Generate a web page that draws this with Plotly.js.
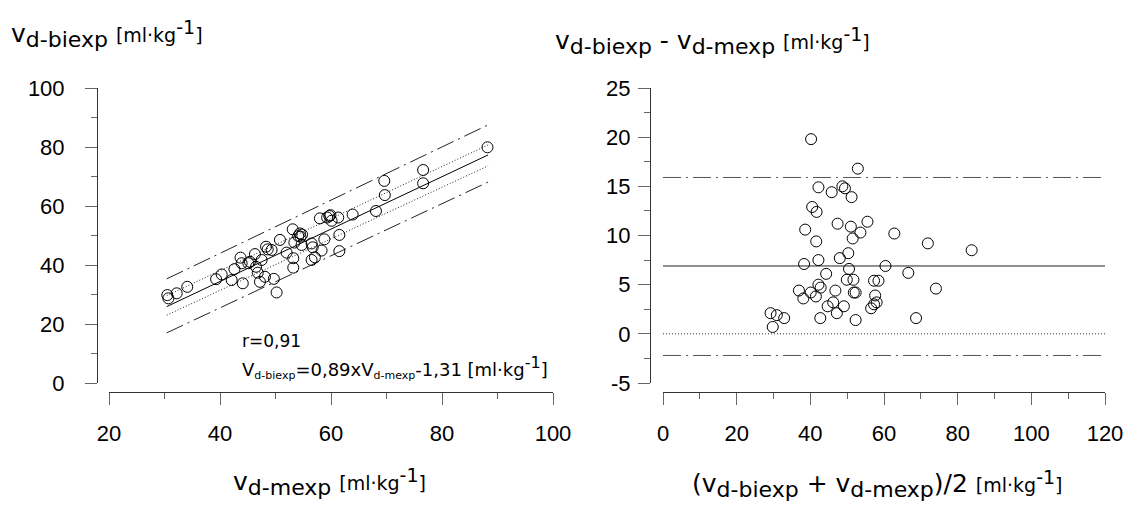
<!DOCTYPE html>
<html>
<head>
<meta charset="utf-8">
<script src="https://cdn.plot.ly/plotly-3.0.1.min.js"></script>
<style>html,body{margin:0;padding:0;background:#fff;}#chart{width:1135px;height:506px;}</style>
</head>
<body>
<div id="chart"></div>
<script>
// Left panel: V d-mexp (x) vs V d-biexp (y)
const mexp = [30.5,30.7,32.2,34.1,39.3,40.3,42.1,42.6,43.7,44.1,43.9,45.1,45.4,46.3,46.5,46.8,47.2,47.5,48.1,48.3,48.6,49.3,49.7,50.2,50.8,52.0,53.1,53.2,53.2,53.4,54.1,54.4,54.5,54.7,54.8,56.5,56.7,57.1,56.5,58.3,58.0,59.3,58.8,59.7,60.1,59.9,61.3,61.5,61.5,63.9,68.1,69.6,69.7,76.6,76.6,88.2];
const biexp = [29.8,28.7,30.4,32.6,35.2,36.8,34.9,38.6,42.5,33.8,40.6,40.6,41.1,43.7,39.4,37.4,34.3,41.7,36.0,46.2,45.3,45.1,35.3,30.7,48.5,44.2,52.1,42.3,39.1,47.6,49.8,50.7,49.6,46.8,50.3,47.3,46.0,42.6,41.7,44.9,55.8,56.1,48.7,56.6,55.0,56.9,56.1,50.2,44.7,57.1,58.3,68.5,63.7,72.2,67.7,79.9];

// Regression line, confidence band (dotted), prediction band (dash-dot)
const fitX = [30.4, 88.3];
const fitY = [25.9, 77.3];
const confUpperY = [29.6, 80.7];
const confLowerY = [23.0, 73.6];
const predUpperY = [35.3, 87.5];
const predLowerY = [17.0, 68.1];

// Right panel: Bland-Altman
const meanVals = [40.2,52.9,42.2,45.8,48.7,49.4,51.2,40.5,41.7,38.6,47.4,51.0,55.5,53.6,51.5,62.8,41.6,50.3,48.0,42.2,38.3,50.5,60.4,44.3,49.9,51.7,57.3,58.5,42.2,42.8,36.9,40.1,41.5,38.1,46.8,51.8,52.3,57.6,46.2,44.7,49.1,47.2,58.0,57.3,56.5,29.2,30.9,32.9,29.8,42.7,52.3,71.9,83.8,66.6,74.1,68.7];
const diffVals = [19.8,16.8,14.9,14.4,15.0,14.8,13.9,12.9,12.4,10.6,11.2,10.9,11.4,10.3,9.7,10.2,9.4,8.2,7.7,7.5,7.1,6.6,6.9,6.1,5.5,5.5,5.4,5.4,5.0,4.7,4.4,4.2,3.8,3.6,4.4,4.2,4.2,3.9,3.2,2.8,2.8,2.1,3.2,3.0,2.6,2.1,1.9,1.6,0.7,1.6,1.4,9.2,8.5,6.2,4.6,1.6];
const baLineX = [0, 120];
const meanDiff = 6.9;
const loaUpper = 15.9;
const loaLower = -2.2;
const zeroDiff = 0;

// Tick values and labels
const leftXTicks = [20,40,60,80,100];
const leftYTicks = [0,20,40,60,80,100];
const rightXTicks = [0,20,40,60,80,100,120];
const rightYTicks = [-5,0,5,10,15,20,25];
const rightYLabels = ['-5','0','5','10','15','20','25'];

const W = 1135, H = 506;
const px = v => v / W;
const py = v => 1 - v / H;

const DASHDOT = '18px,5px,2px,5px';
const DOTTED = '1px,2px';

const circle = {symbol: 'circle-open', size: 11, color: '#000', line: {width: 1, color: '#000'}};

function seg(x, y, dash, color, xa, ya) {
  return {x: x, y: y, mode: 'lines', type: 'scatter', xaxis: xa, yaxis: ya,
    line: {color: color, width: 1, dash: dash}, hoverinfo: 'skip'};
}

const traces = [
  seg(fitX, predUpperY, DASHDOT, '#222', 'x', 'y'),
  seg(fitX, predLowerY, DASHDOT, '#222', 'x', 'y'),
  seg(fitX, confUpperY, DOTTED, '#222', 'x', 'y'),
  seg(fitX, confLowerY, DOTTED, '#222', 'x', 'y'),
  seg(fitX, fitY, 'solid', '#000', 'x', 'y'),
  {x: mexp, y: biexp, mode: 'markers', type: 'scatter', xaxis: 'x', yaxis: 'y', marker: circle, cliponaxis: false},
  seg(baLineX, [loaUpper, loaUpper], DASHDOT, '#555', 'x2', 'y2'),
  seg(baLineX, [loaLower, loaLower], DASHDOT, '#555', 'x2', 'y2'),
  seg(baLineX, [zeroDiff, zeroDiff], DOTTED, '#333', 'x2', 'y2'),
  seg(baLineX, [meanDiff, meanDiff], 'solid', '#222', 'x2', 'y2'),
  {x: meanVals, y: diffVals, mode: 'markers', type: 'scatter', xaxis: 'x2', yaxis: 'y2', marker: circle, cliponaxis: false}
];

const tickFont = {family: 'Liberation Sans, Arial, sans-serif', size: 22, color: '#000'};
function axis(extra) {
  return Object.assign({
    showgrid: false, zeroline: false, showline: true, linecolor: '#333', linewidth: 1,
    ticks: 'outside', ticklen: 12, tickcolor: '#666', tickwidth: 1,
    tickfont: tickFont, anchor: 'free', fixedrange: true,
  }, extra);
}
const minorTicks = d => ({dtick: d, tick0: 0, ticks: 'outside', ticklen: 6, tickcolor: '#666'});

const yDom = [1 - 383 / H, 1 - 88 / H];
const layout = {
  width: W, height: H,
  margin: {l: 0, r: 0, t: 0, b: 0},
  paper_bgcolor: '#fff', plot_bgcolor: 'rgba(0,0,0,0)',
  showlegend: false,
  xaxis: axis({domain: [px(109), px(553)], range: [20, 100], position: py(392),
    tickvals: leftXTicks, minor: minorTicks(10), ticklabelstandoff: 10}),
  yaxis: axis({domain: yDom, range: [0, 100], position: px(97),
    tickvals: leftYTicks, minor: minorTicks(10), ticklabelstandoff: 16}),
  xaxis2: axis({domain: [px(663), px(1105)], range: [0, 120], position: py(392),
    tickvals: rightXTicks, minor: minorTicks(10), ticklabelstandoff: 10}),
  yaxis2: axis({domain: yDom, range: [-5, 25], position: px(650),
    tickvals: rightYTicks, ticktext: rightYLabels, minor: minorTicks(2.5), ticklabelstandoff: 3}),
  annotations: []
};

const TF = 'DejaVu Sans, Verdana, sans-serif';
function vsym(sub) {
  return '<span style="font-size:25px">v</span><sub><span style="font-size:22px">' + sub + '</span></sub>';
}
const unit = ' <span style="font-size:19px">[ml·kg<sup><span style="font-size:19px">-1</span></sup>]</span>';
function ann(text, x, y, xanchor, size) {
  layout.annotations.push({text: text, x: px(x), y: py(y), xref: 'paper', yref: 'paper',
    xanchor: xanchor, yanchor: 'middle', showarrow: false, font: {family: TF, size: size || 25, color: '#000'}});
}
ann(vsym('d-biexp') + unit, 9, 34, 'left');
ann(vsym('d-biexp') + ' - ' + vsym('d-mexp') + unit, 553, 41, 'left');
ann(vsym('d-mexp') + unit, 329, 482, 'center');
ann('(' + vsym('d-biexp') + ' + ' + vsym('d-mexp') + ')/2' + unit, 877, 484, 'center');
ann('r=0,91', 240, 341, 'left', 17);
ann('V<sub><span style="font-size:11px">d-biexp</span></sub>=0,89xV<sub><span style="font-size:11px">d-mexp</span></sub>-1,31 [ml·kg<sup><span style="font-size:16px">-1</span></sup>]', 240, 367, 'left', 18);

Plotly.newPlot('chart', traces, layout, {staticPlot: true, displayModeBar: false});
</script>
</body>
</html>
